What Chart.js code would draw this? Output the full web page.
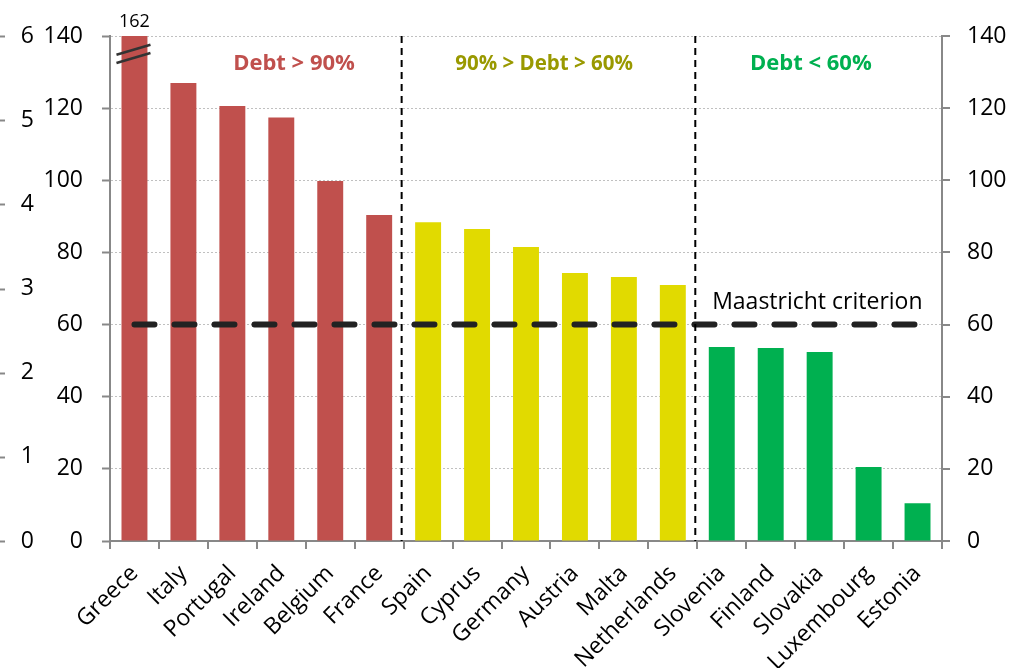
<!DOCTYPE html>
<html>
<head>
<meta charset="utf-8">
<script src="https://cdn.jsdelivr.net/npm/chart.js@4.4.0/dist/chart.umd.min.js"></script>
<style>
  html, body { margin: 0; padding: 0; background: #fff; }
  #wrap { width: 1012px; height: 668px; }
</style>
</head>
<body>
<div id="wrap"><canvas id="debtChart" width="1012" height="668"></canvas></div>
<script>
const countries = ['Greece', 'Italy', 'Portugal', 'Ireland', 'Belgium', 'France',
    'Spain', 'Cyprus', 'Germany', 'Austria', 'Malta', 'Netherlands',
    'Slovenia', 'Finland', 'Slovakia', 'Luxembourg', 'Estonia'];
const debt = [162, 127, 120.6, 117.4, 99.8, 90.4,
    88.4, 86.5, 81.5, 74.3, 73.2, 71,
    53.8, 53.5, 52.4, 20.5, 10.5];
const groupOf = ['high', 'high', 'high', 'high', 'high', 'high',
    'mid', 'mid', 'mid', 'mid', 'mid', 'mid',
    'low', 'low', 'low', 'low', 'low'];
const groupTitles = ['Debt > 90%', '90% > Debt > 60%', 'Debt < 60%'];
const maastricht = 60;
const debtAxisMax = 140;
const debtAxisStep = 20;
const outerAxisMax = 6;

const barColor = { high: '#C0504D', mid: '#E1DA00', low: '#00B050' };
const titleColor = ['#C0504D', '#999900', '#00B050'];

const FONT = '"Open Sans", sans-serif';

const extras = {
    id: 'extras',
    afterDatasetsDraw(chart) {
        const ctx = chart.ctx;
        const x = chart.scales.x;
        const y = chart.scales.y;
        const outer = chart.scales.yOuter;
        const area = chart.chartArea;
        ctx.save();

        // little tick marks of the outer 0-6 axis at the page edge
        ctx.strokeStyle = '#888';
        ctx.lineWidth = 2;
        outer.ticks.forEach(t => {
            const py = Math.round(outer.getPixelForValue(t.value)) + 0.5;
            ctx.beginPath();
            ctx.moveTo(0, py);
            ctx.lineTo(5, py);
            ctx.stroke();
        });

        // dashed separators between groups
        ctx.strokeStyle = '#000';
        ctx.lineWidth = 2;
        ctx.setLineDash([7, 5]);
        for (let i = 1; i < countries.length; i++) {
            if (groupOf[i] !== groupOf[i - 1]) {
                const px = (x.getPixelForValue(i - 1) + x.getPixelForValue(i)) / 2 - 2;
                ctx.beginPath();
                ctx.moveTo(px, area.top);
                ctx.lineTo(px, area.bottom);
                ctx.stroke();
            }
        }
        ctx.setLineDash([]);

        // group titles
        ctx.textAlign = 'center';
        ctx.textBaseline = 'middle';
        const titlePos = [3.26, 8.37, 13.82];
        const titleSize = [22, 20.5, 22];
        groupTitles.forEach((t, i) => {
            ctx.font = 'bold ' + titleSize[i] + 'px ' + FONT;
            ctx.fillStyle = titleColor[i];
            ctx.fillText(t, x.getPixelForValue(titlePos[i]), y.getPixelForValue(132.3));
        });

        // value label and break marks on the capped bar
        const bars = chart.getDatasetMeta(1).data;
        debt.forEach((v, i) => {
            if (v <= debtAxisMax) return;
            const bar = bars[i];
            ctx.font = '18px ' + FONT;
            ctx.fillStyle = '#000';
            ctx.fillText(String(v), bar.x, bar.y - 14);
            ctx.strokeStyle = '#333';
            ctx.lineWidth = 2.5;
            [136.2, 133.9].forEach(b => {
                const py = y.getPixelForValue(b);
                ctx.beginPath();
                ctx.moveTo(bar.x - 18, py + 5);
                ctx.lineTo(bar.x + 16, py - 5);
                ctx.stroke();
            });
        });

        // label for the 60% line
        ctx.font = '23px ' + FONT;
        ctx.fillStyle = '#000';
        ctx.textAlign = 'right';
        ctx.textBaseline = 'alphabetic';
        ctx.fillText('Maastricht criterion', x.getPixelForValue(countries.length - 1) + 5,
            y.getPixelForValue(maastricht) - 16);

        ctx.restore();
    }
};

const tickFont = { family: FONT, size: 23 };

new Chart(document.getElementById('debtChart'), {
    data: {
        labels: countries,
        datasets: [{
            type: 'line',
            data: countries.map(() => maastricht),
            borderColor: '#222',
            borderWidth: 6,
            borderDash: [20, 20],
            borderCapStyle: 'round',
            pointRadius: 0,
            yAxisID: 'y',
            order: 0
        }, {
            type: 'bar',
            data: debt.map(v => Math.min(v, debtAxisMax)),
            backgroundColor: groupOf.map(g => barColor[g]),
            barPercentage: 0.53,
            categoryPercentage: 1,
            yAxisID: 'y',
            order: 1
        }]
    },
    options: {
        responsive: false,
        animation: false,
        events: [],
        layout: { padding: { top: 36, left: 0, right: 0, bottom: 0 } },
        plugins: { legend: { display: false }, tooltip: { enabled: false } },
        scales: {
            x: {
                grid: { offset: true, drawOnChartArea: false, tickLength: 8, color: '#888', lineWidth: 2 },
                border: { color: '#888', width: 2 },
                ticks: { font: { family: FONT, size: 23 }, color: '#000', maxRotation: 45, minRotation: 45, padding: 11, autoSkip: false },
                afterFit: s => { s.height = 127; }
            },
            yOuter: {
                position: 'left',
                weight: 2,
                min: 0,
                max: outerAxisMax,
                ticks: { stepSize: 1, font: tickFont, color: '#000', padding: 11 },
                grid: { display: false, drawTicks: false },
                border: { display: false },
                afterFit: s => { s.width = 45; }
            },
            y: {
                position: 'left',
                weight: 1,
                min: 0,
                max: debtAxisMax,
                ticks: { stepSize: debtAxisStep, font: tickFont, color: '#000', padding: 19 },
                grid: { color: '#c0c0c0', lineWidth: 1, tickColor: '#888', tickLength: 8, tickWidth: 2 },
                border: { color: '#888', width: 2, dash: [2, 2] },
                afterFit: s => { s.width = 65; }
            },
            yRight: {
                position: 'right',
                min: 0,
                max: debtAxisMax,
                ticks: { stepSize: debtAxisStep, font: tickFont, color: '#000', padding: 17 },
                grid: { drawOnChartArea: false, color: '#888', tickLength: 8, lineWidth: 2 },
                border: { color: '#888', width: 2 },
                afterFit: s => { s.width = 70; }
            }
        }
    },
    plugins: [extras]
});
</script>
</body>
</html>
